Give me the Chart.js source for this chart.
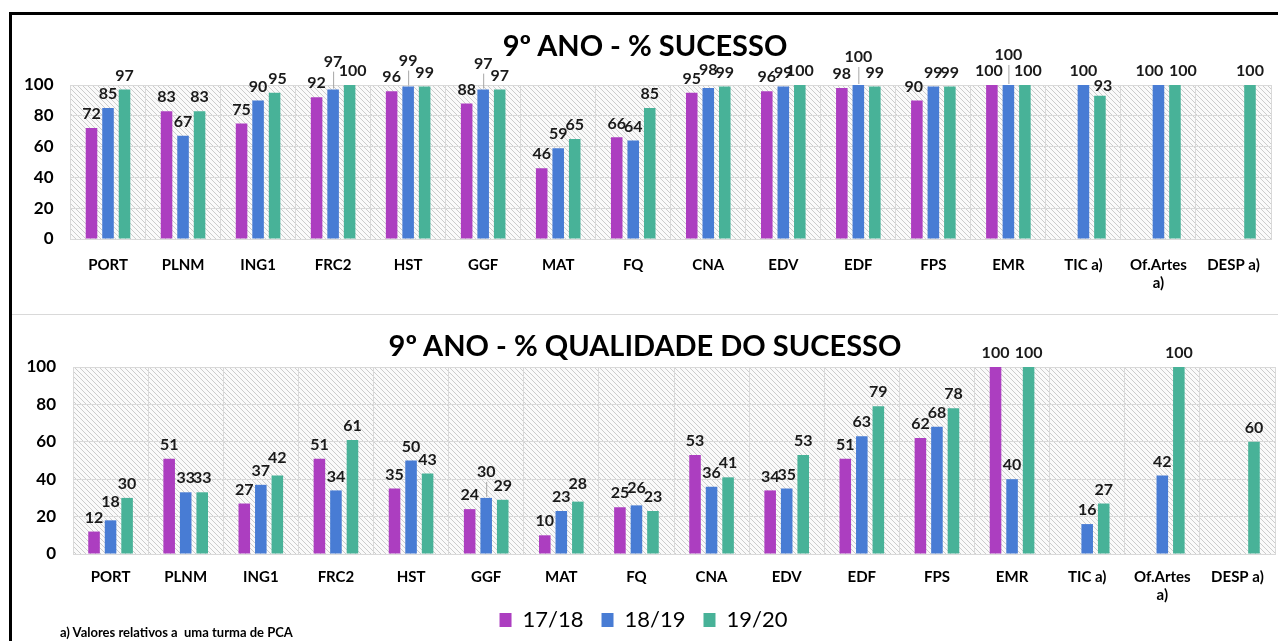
<!DOCTYPE html>
<html>
<head>
<meta charset="utf-8">
<script src="https://cdn.jsdelivr.net/npm/chart.js@4.4.1/dist/chart.umd.min.js"></script>
<style>
  body { margin: 0; background: #fff; width: 1278px; height: 641px; overflow: hidden; position: relative; font-family: Lato, sans-serif; }
  .frameTop { position: absolute; left: 9px; top: 12px; width: 1269px; height: 3px; background: #000; }
  .frameLeft { position: absolute; left: 9px; top: 12px; width: 3px; height: 629px; background: #000; }
  .sep { position: absolute; left: 12px; top: 314px; width: 1266px; height: 1px; background: #d9d9d9; }
  .title { position: absolute; left: 0; width: 1290px; text-align: center; font-weight: bold; font-size: 29px; color: #000; line-height: 36px; }
  #wrap1 { position: absolute; left: 12px; top: 15px; width: 1266px; height: 298px; }
  #wrap2 { position: absolute; left: 12px; top: 315px; width: 1266px; height: 326px; }
  .note { position: absolute; left: 60px; top: 624px; font-size: 13px; font-weight: bold; color: #000; }
</style>
</head>
<body>
<div id="wrap1"><canvas id="chart1"></canvas></div>
<div id="wrap2"><canvas id="chart2"></canvas></div>
<div class="sep"></div>
<div class="frameTop"></div>
<div class="frameLeft"></div>
<div class="title" style="top:27px">9º ANO - % SUCESSO</div>
<div class="title" style="top:327px">9º ANO - % QUALIDADE DO SUCESSO</div>
<div class="note">a) Valores relativos a&nbsp; uma turma de PCA</div>
<script>
// disciplinas
var subjects = ['PORT', 'PLNM', 'ING1', 'FRC2', 'HST', 'GGF', 'MAT', 'FQ', 'CNA', 'EDV', 'EDF', 'FPS', 'EMR', 'TIC a)', ['Of.Artes', 'a)'], 'DESP a)'];
var years = ['17/18', '18/19', '19/20'];
var yTicks = [0, 20, 40, 60, 80, 100];

// % sucesso
var success1718 = [72, 83, 75, 92, 96, 88, 46, 66, 95, 96, 98, 90, 100, null, null, null];
var success1819 = [85, 67, 90, 97, 99, 97, 59, 64, 98, 99, 100, 99, 100, 100, 100, null];
var success1920 = [97, 83, 95, 100, 99, 97, 65, 85, 99, 100, 99, 99, 100, 93, 100, 100];

// % qualidade do sucesso
var quality1718 = [12, 51, 27, 51, 35, 24, 10, 25, 53, 34, 51, 62, 100, null, null, null];
var quality1819 = [18, 33, 37, 34, 50, 30, 23, 26, 36, 35, 63, 68, 40, 16, 42, null];
var quality1920 = [30, 33, 42, 61, 43, 29, 28, 23, 41, 53, 79, 78, 100, 27, 100, 60];

var colors = ['#AC3EC0', '#487CD4', '#48B298'];
var gridColor = '#d9d9d9';

// label nudges to avoid overlaps, "dataset,index": [dx, up] in px
var nudgeTop = { '1,3': [0, 14], '1,4': [0, 12], '1,5': [0, 12], '1,8': [0, 4], '1,10': [0, 14],
  '0,12': [-3, 0], '1,12': [0, 16], '2,12': [3, 0], '2,3': [3, 0], '2,13': [3, -4],
  '1,14': [-9, 0], '2,14': [8, 0], '0,11': [-3, 0], '2,2': [3, 0] };
var nudgeBottom = { '1,5': [0, 12], '1,7': [0, 4], '1,0': [0, 4], '2,2': [0, 4], '2,6': [0, 4] };

// hatched background of the plot area
function makeHatch() {
  var c = document.createElement('canvas');
  c.width = 5; c.height = 5;
  var g = c.getContext('2d');
  g.fillStyle = '#fafafa';
  g.fillRect(0, 0, 5, 5);
  g.strokeStyle = '#cccccc';
  g.lineWidth = 1;
  g.beginPath();
  for (var k = -5; k <= 5; k += 5) {
    g.moveTo(k - 1, -1);
    g.lineTo(k + 6, 6);
  }
  g.stroke();
  return c;
}
var hatchTile = makeHatch();

var hatchPlugin = {
  id: 'hatch',
  beforeDraw: function (chart) {
    var a = chart.chartArea, ctx = chart.ctx;
    ctx.save();
    ctx.fillStyle = ctx.createPattern(hatchTile, 'repeat');
    ctx.fillRect(a.left, a.top, a.right - a.left, a.bottom - a.top);
    ctx.restore();
  }
};

var valueLabels = {
  id: 'valueLabels',
  afterDatasetsDraw: function (chart, args, opts) {
    var ctx = chart.ctx;
    var nudge = opts.nudge || {};
    ctx.save();
    ctx.font = 'bold 16px Lato';
    ctx.textAlign = 'center';
    ctx.textBaseline = 'bottom';
    chart.data.datasets.forEach(function (ds, i) {
      chart.getDatasetMeta(i).data.forEach(function (bar, j) {
        if (ds.data[j] == null) return;
        var n = nudge[i + ',' + j] || [0, 0];
        if (n[1] > 8) {
          // leader line
          ctx.strokeStyle = '#a6a6a6';
          ctx.lineWidth = 1;
          ctx.beginPath();
          ctx.moveTo(bar.x + 0.5, bar.y - 1);
          ctx.lineTo(bar.x + 0.5, bar.y - n[1] - 4);
          ctx.stroke();
        }
        ctx.fillStyle = '#1a1a1a';
        ctx.fillText(ds.data[j], bar.x + n[0], bar.y - 6 - n[1]);
      });
    });
    ctx.restore();
  }
};

function makeChart(id, series, plotTop, xHeight, showLegend, rightPad, yWidth, xPad, nudge) {
  return new Chart(document.getElementById(id), {
    type: 'bar',
    data: {
      labels: subjects,
      datasets: years.map(function (y, i) {
        return {
          label: y,
          data: series[i],
          backgroundColor: colors[i],
          categoryPercentage: 0.66,
          barPercentage: 0.7
        };
      })
    },
    options: {
      responsive: true,
      maintainAspectRatio: false,
      animation: false,
      layout: { padding: { top: plotTop, right: rightPad, left: 0, bottom: 0 } },
      plugins: {
        title: { display: false },
        tooltip: { enabled: false },
        valueLabels: { nudge: nudge },
        legend: {
          display: showLegend,
          position: 'bottom',
          labels: {
            boxWidth: 12,
            boxHeight: 14,
            padding: 18,
            color: '#000',
            font: { family: 'Lato', size: 22, lineHeight: 1 }
          }
        }
      },
      scales: {
        x: {
          grid: { color: gridColor, offset: true, drawTicks: false },
          border: { color: gridColor },
          ticks: { color: '#000', font: { family: 'Lato', weight: 'bold', size: 15 }, padding: xPad, autoSkip: false, maxRotation: 0 },
          afterFit: function (s) {
            s.height = xHeight;
            // let the wrapped "a)" line spill below the axis box
            s._computeLabelArea = function () { return undefined; };
          }
        },
        y: {
          min: 0,
          max: 100,
          grid: { color: gridColor, drawTicks: false },
          border: { color: gridColor },
          afterBuildTicks: function (s) { s.ticks = yTicks.map(function (v) { return { value: v }; }); },
          ticks: { color: '#000', font: { family: 'Lato', weight: 'bold', size: 17 }, padding: 17 },
          afterFit: function (s) { s.width = yWidth; }
        }
      }
    },
    plugins: [hatchPlugin, valueLabels]
  });
}

makeChart('chart1', [success1718, success1819, success1920], 70, 74, false, 7, 58.5, 17, nudgeTop);
makeChart('chart2', [quality1718, quality1819, quality1920], 52, 37, true, 3, 61, 14, nudgeBottom);
</script>
</body>
</html>
